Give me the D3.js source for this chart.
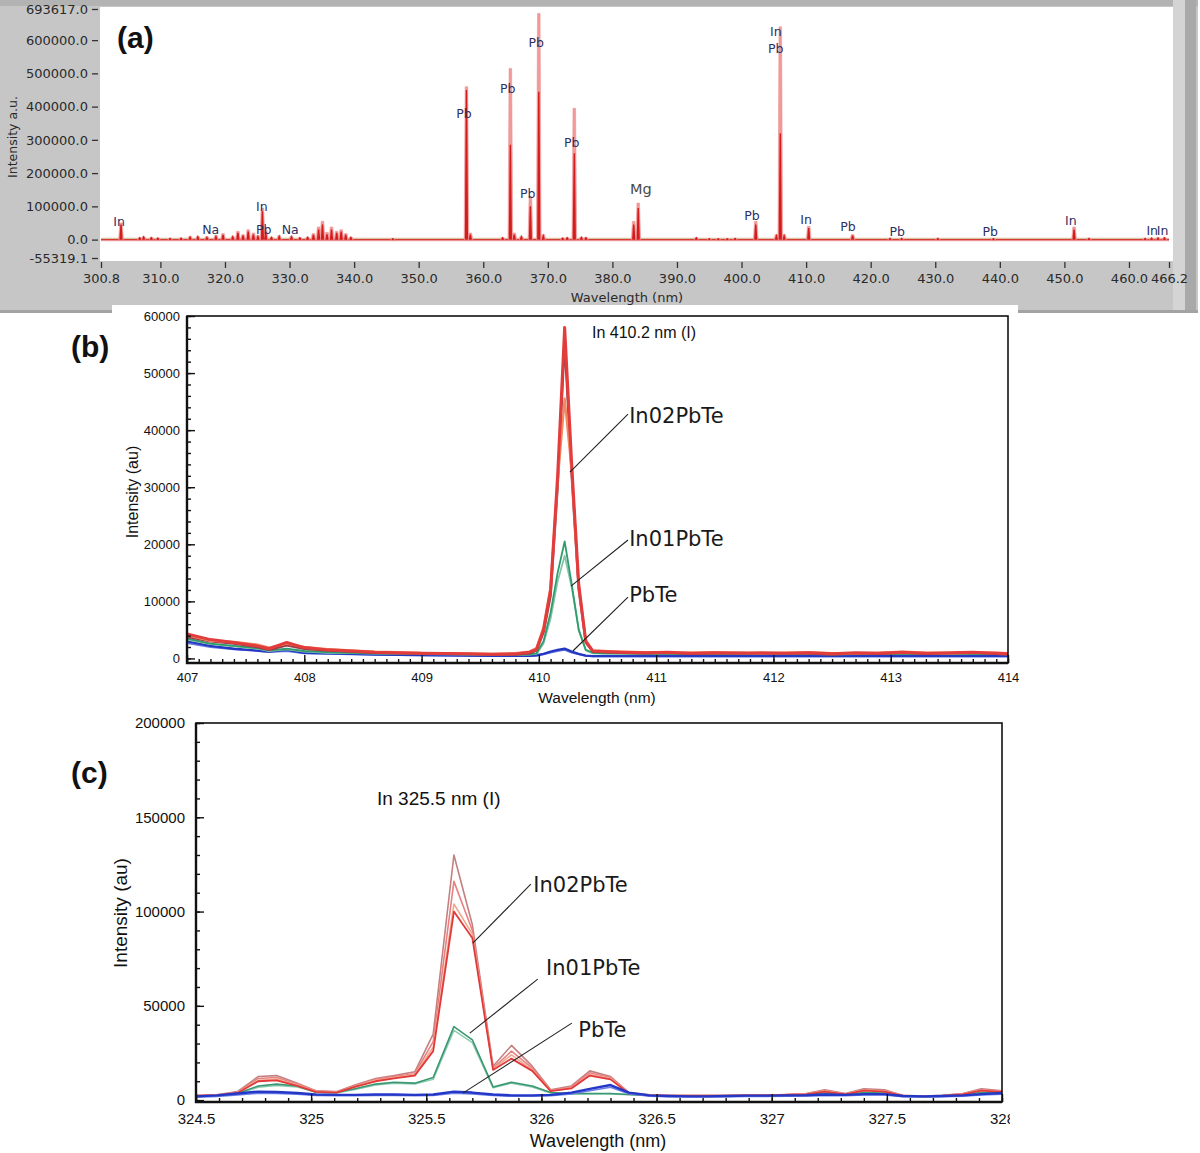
<!DOCTYPE html>
<meta charset="utf-8">
<style>
    body { margin: 0; background: #fff; }
</style>
<svg width="1200" height="1153"></svg>

<script src="https://d3js.org/d3.v7.min.js"></script>
<script>
    // ---------- panel (a): survey spectrum ----------
    var aXTicks = [300.8, 310, 320, 330, 340, 350, 360, 370, 380, 390, 400, 410, 420, 430, 440, 450, 460, 466.2];
    var aYTicks = [-55319.1, 0, 100000, 200000, 300000, 400000, 500000, 600000, 693617];
    // peak position (nm), upper (pink) spectrum, lower (red) spectrum
    var aPeakWave = [303.9, 306.8, 307.4, 308.6, 309.6, 311.5, 313.2, 314.6, 315.8, 317.2, 318.6, 319.7,
        321.2, 322.0, 322.8, 323.6, 324.4, 325.1, 325.8, 326.3, 327.2, 328.4, 330.3, 331.6, 332.8,
        333.7, 334.5, 335.1, 335.8, 336.5, 337.3, 338.0, 338.7, 339.5, 346.0, 357.4, 358.0, 363.0,
        364.2, 364.8, 365.9, 367.3, 368.6, 369.3, 372.3, 373.0, 374.1, 375.2, 375.9, 383.3, 384.0,
        393.0, 395.0, 396.4, 397.8, 399.0, 402.2, 405.4, 406.0, 406.6, 410.4, 417.2, 423.0, 424.8,
        430.4, 439.0, 451.5, 453.8, 462.5, 463.5, 464.5, 465.5];
    var aPeakHigh = [50000, 6000, 9000, 7000, 5000, 4000, 5000, 9000, 10000, 9000, 12000, 18000,
        10000, 25000, 15000, 30000, 20000, 12000, 95000, 30000, 8000, 12000, 10000, 6000, 8000,
        18000, 38000, 55000, 22000, 38000, 25000, 30000, 18000, 8000, 3000, 460000, 20000, 6000,
        515000, 20000, 10000, 130000, 680000, 15000, 5000, 6000, 395000, 8000, 7000, 55000, 110000,
        6000, 3000, 3000, 3000, 4000, 55000, 15000, 640000, 15000, 40000, 15000, 4000, 4000,
        4000, 3000, 38000, 4000, 4000, 5000, 6000, 6000];
    var aPeakLow = [45000, 5000, 7000, 5000, 4000, 3000, 4000, 7000, 8000, 6000, 9000, 14000,
        8000, 20000, 12000, 24000, 15000, 9000, 85000, 22000, 6000, 9000, 8000, 5000, 6000,
        14000, 30000, 45000, 16000, 30000, 20000, 24000, 14000, 6000, 2000, 450000, 15000, 5000,
        285000, 15000, 8000, 100000, 445000, 10000, 4000, 5000, 260000, 6000, 5000, 45000, 95000,
        5000, 2000, 2000, 2000, 3000, 45000, 10000, 320000, 10000, 35000, 12000, 3000, 3000,
        3000, 2000, 30000, 3000, 3000, 4000, 4000, 5000];
    var aLabelText = ["In", "Na", "In", "Pb", "Na", "Pb", "Pb", "Pb", "Pb", "Pb", "Mg", "Pb", "In", "Pb",
        "In", "Pb", "Pb", "Pb", "In", "In", "In"];
    var aLabelWave = [303.6, 317.8, 325.7, 326.0, 330.1, 357.0, 363.8, 366.9, 368.2, 373.7, 384.4, 401.6,
        405.3, 405.3, 410.0, 416.5, 424.1, 438.5, 451.0, 463.6, 465.2];
    var aLabelLevel = [40900, 16800, 86000, 16800, 16800, 365500, 441000, 125000, 579000, 278500, 137000,
        59000, 612000, 561000, 47000, 25900, 10800, 10800, 44000, 13800, 13800];

    // ---------- panel (b): In 410.2 nm ----------
    var bXTicks = [407, 408, 409, 410, 411, 412, 413, 414];
    var bYTicks = [0, 10000, 20000, 30000, 40000, 50000, 60000];
    var bWave = [407.0, 407.2, 407.4, 407.6, 407.7, 407.85, 408.0, 408.2, 408.4, 408.6, 408.8, 409.0, 409.2, 409.4, 409.6, 409.8,
        409.92, 409.98, 410.04, 410.10, 410.16, 410.22, 410.28, 410.34, 410.40, 410.46,
        410.55, 410.7, 410.9, 411.1, 411.3, 411.5, 411.7, 411.9, 412.1, 412.3, 412.5, 412.7, 412.9, 413.1, 413.3, 413.5, 413.7, 413.9, 414.0];
    var bIn02a = [4300, 3300, 2800, 2200, 1700, 2800, 1900, 1500, 1300, 1100, 1000, 900, 850, 800, 750, 800,
        1100, 1600, 5000, 12000, 32000, 58000, 34000, 13000, 3000, 1300,
        1200, 1100, 1000, 1100, 900, 1000, 900, 1000, 900, 1000, 800, 1000, 900, 1100, 900, 1000, 1100, 900, 800];
    var bIn02b = [4100, 3100, 2900, 2400, 1900, 2600, 2000, 1600, 1400, 1200, 1100, 950, 900, 850, 800, 900,
        1200, 1800, 5500, 12500, 31000, 45500, 33000, 12500, 3200, 1400,
        1300, 1200, 1100, 1000, 1000, 1100, 1000, 900, 1000, 1100, 900, 900, 1000, 1200, 1000, 900, 1000, 1000, 900];
    var bIn02c = [3800, 3000, 2600, 2000, 1500, 2300, 1700, 1400, 1200, 1000, 900, 850, 800, 750, 700, 700,
        900, 1400, 4600, 11000, 30000, 55500, 32000, 12000, 2800, 1200,
        1100, 1000, 900, 1000, 800, 900, 1000, 800, 900, 900, 700, 900, 800, 1000, 800, 900, 1000, 800, 700];
    var bIn01a = [3500, 2600, 2200, 1800, 1400, 1700, 1300, 1100, 1000, 900, 850, 800, 750, 700, 650, 650,
        700, 900, 3000, 8000, 15000, 20500, 13000, 5000, 1500, 1000,
        900, 900, 800, 800, 800, 800, 800, 800, 800, 800, 700, 800, 800, 800, 800, 800, 800, 800, 700];
    var bIn01b = [3300, 2500, 2100, 1700, 1300, 1600, 1200, 1000, 950, 850, 800, 750, 700, 650, 600, 600,
        650, 800, 2600, 7000, 13500, 18000, 12500, 5000, 1400, 900,
        850, 800, 800, 750, 750, 750, 750, 750, 750, 750, 700, 750, 750, 750, 750, 750, 750, 750, 700];
    var bPbTea = [3000, 2200, 1700, 1400, 1200, 1500, 1000, 900, 800, 700, 650, 600, 550, 500, 450, 450,
        450, 550, 800, 1200, 1500, 1700, 1200, 800, 500, 400,
        400, 400, 400, 400, 400, 400, 400, 400, 400, 400, 400, 400, 400, 400, 400, 400, 400, 400, 400];
    var bPbTeb = [2700, 2000, 1600, 1300, 1100, 1300, 900, 800, 700, 650, 600, 550, 500, 450, 400, 400,
        400, 500, 700, 1000, 1300, 1500, 1000, 700, 450, 350,
        350, 350, 350, 350, 350, 350, 350, 350, 350, 350, 350, 350, 350, 350, 350, 350, 350, 350, 350];

    // ---------- panel (c): In 325.5 nm ----------
    var cXTicks = [324.5, 325, 325.5, 326, 326.5, 327, 327.5, 328];
    var cYTicks = [0, 50000, 100000, 150000, 200000];
    var cWave = [324.50, 324.59, 324.68, 324.77, 324.85, 324.94, 325.02, 325.11, 325.19, 325.28, 325.36, 325.45, 325.53, 325.62,
        325.70, 325.79, 325.87, 325.96, 326.04, 326.13, 326.21, 326.30, 326.38, 326.47, 326.55, 326.64, 326.72, 326.81,
        326.89, 326.98, 327.06, 327.15, 327.23, 327.32, 327.40, 327.49, 327.57, 327.66, 327.74, 327.83, 327.91, 328.00];
    var cIn02a = [2500, 2800, 4500, 12500, 13000, 9000, 5000, 4500, 8000, 11500, 13000, 15000, 35000, 130000,
        93000, 18000, 29000, 18000, 5500, 7500, 15500, 12500, 4000, 2800, 2600, 2500, 2500, 2600,
        2800, 2800, 3000, 3500, 5500, 3500, 6000, 5500, 2500, 2200, 2500, 3500, 6000, 5000];
    var cIn02b = [2400, 2700, 4200, 11500, 12000, 8500, 4800, 4300, 7600, 11000, 12500, 14000, 31000, 116000,
        90000, 17000, 26000, 17000, 5200, 7000, 14500, 12000, 3800, 2700, 2500, 2400, 2400, 2500,
        2700, 2700, 2900, 3300, 5000, 3300, 5500, 5000, 2400, 2100, 2400, 3300, 5500, 4700];
    var cIn02c = [2300, 2600, 4000, 10500, 11000, 8000, 4600, 4200, 7200, 10500, 12000, 13500, 28000, 104000,
        88000, 16500, 24000, 16000, 5000, 6500, 13500, 11500, 3700, 2600, 2400, 2300, 2300, 2400,
        2600, 2600, 2800, 3200, 4800, 3200, 5200, 4800, 2300, 2000, 2300, 3200, 5200, 4500];
    var cIn02d = [2200, 2500, 3800, 10000, 10500, 7500, 4400, 4000, 7000, 10000, 11500, 13000, 26000, 100000,
        86000, 16000, 22000, 15500, 4800, 6200, 13000, 11000, 3500, 2500, 2300, 2200, 2200, 2300,
        2500, 2500, 2700, 3000, 4500, 3000, 5000, 4500, 2200, 1900, 2200, 3000, 5000, 4300];
    var cIn01a = [2000, 2300, 3500, 7500, 8500, 7500, 4300, 4000, 6000, 8500, 9500, 9000, 12000, 39000,
        32000, 7000, 9500, 7500, 4000, 3500, 3500, 3500, 3000, 2500, 2300, 2200, 2200, 2300,
        2400, 2400, 2600, 2800, 3800, 2800, 4000, 3800, 2200, 1900, 2100, 2800, 4000, 3800];
    var cIn01b = [1900, 2200, 3300, 6800, 7800, 7000, 4100, 3800, 5600, 8000, 9000, 8500, 11000, 37000,
        30500, 6500, 9000, 7000, 3800, 3300, 3300, 3300, 2800, 2400, 2200, 2100, 2100, 2200,
        2300, 2300, 2500, 2700, 3500, 2700, 3700, 3500, 2100, 1800, 2000, 2700, 3700, 3600];
    var cPbTea = [2000, 2500, 3500, 4500, 4300, 3800, 3000, 2800, 2800, 3000, 3000, 2800, 3000, 4500,
        4000, 3000, 2500, 2500, 2800, 4000, 6000, 8000, 4000, 2500, 2200, 2000, 2000, 2200,
        2400, 2400, 2500, 2600, 3000, 2800, 3200, 3200, 2200, 2000, 2200, 2500, 3200, 3800];
    var cPbTeb = [1600, 2000, 2800, 3600, 3500, 3100, 2500, 2300, 2300, 2500, 2500, 2300, 2500, 3700,
        3300, 2500, 2100, 2100, 2300, 3300, 5000, 6800, 3400, 2100, 1800, 1700, 1700, 1800,
        2000, 2000, 2100, 2200, 2500, 2300, 2700, 2700, 1800, 1700, 1800, 2100, 2700, 3200];

    var svg = d3.select("svg"),
        LV_FONT = "DejaVu Sans, sans-serif",
        SCI_FONT = "Liberation Sans, Arial, sans-serif";

    // ======================= panel (a) =======================
    var gA = svg.append("g"),
        xA = d3.scaleLinear().domain([300.8, 466.2]).range([101, 1169]),
        yA = d3.scaleLinear().domain([-55319.1, 693617]).range([258, 9]),
        fmtA = function (d) {
            return d3.format(".1f")(d).replace("\u2212", "-");
        };

    gA.append("rect").attr("x", 0).attr("y", 0).attr("width", 1198).attr("height", 313).attr("fill", "#c6c6c6");
    gA.append("rect").attr("x", 0).attr("y", 0).attr("width", 1198).attr("height", 6).attr("fill", "#b3b3b3");
    gA.append("rect").attr("x", 1173).attr("y", 0).attr("width", 12).attr("height", 313).attr("fill", "#d4d4d4");
    gA.append("rect").attr("x", 1185).attr("y", 0).attr("width", 11).attr("height", 313).attr("fill", "#a9a9a9");
    gA.append("rect").attr("x", 0).attr("y", 310).attr("width", 1198).attr("height", 3).attr("fill", "#a3a3a3");
    gA.append("rect").attr("x", 100).attr("y", 7).attr("width", 1073).attr("height", 254).attr("fill", "#fff");

    // baseline of the spectra
    gA.append("line")
        .attr("x1", xA(300.8)).attr("x2", xA(466.2))
        .attr("y1", yA(0)).attr("y2", yA(0))
        .attr("stroke", "#f2b0b0").attr("stroke-width", 3.5);
    gA.append("line")
        .attr("x1", xA(300.8)).attr("x2", xA(466.2))
        .attr("y1", yA(0) - 1).attr("y2", yA(0) - 1)
        .attr("stroke", "#b9d98c").attr("stroke-width", 0.8).attr("opacity", 0.7);
    gA.append("line")
        .attr("x1", xA(300.8)).attr("x2", xA(466.2))
        .attr("y1", yA(0)).attr("y2", yA(0))
        .attr("stroke", "#d83a3a").attr("stroke-width", 1.3);

    // upper spectrum (pink sticks)
    gA.append("g").selectAll("path")
        .data(aPeakWave)
        .enter()
        .append("path")
        .attr("d", function (d, i) {
            var x = xA(d), y0 = yA(0), y1 = yA(aPeakHigh[i]);
            return "M" + (x - 2.4) + "," + y0 + "L" + (x - 1.3) + "," + y1 + "L" + (x + 1.3) + "," + y1 + "L" + (x + 2.4) + "," + y0 + "Z";
        })
        .attr("fill", "#f29a9a")
        .attr("stroke", "#e98a8a")
        .attr("stroke-width", 0.5);

    // lower spectrum (red sticks)
    gA.append("g").selectAll("path")
        .data(aPeakWave)
        .enter()
        .append("path")
        .attr("d", function (d, i) {
            var x = xA(d), y0 = yA(0), y1 = yA(aPeakLow[i]);
            return "M" + (x - 0.9) + "," + y0 + "L" + x + "," + y1 + "L" + (x + 0.9) + "," + y0;
        })
        .attr("fill", "#d82020")
        .attr("stroke", "#d41c1c")
        .attr("stroke-width", 1.4);

    gA.append("g").selectAll("text")
        .data(aLabelText)
        .enter()
        .append("text")
        .attr("x", function (d, i) { return xA(aLabelWave[i]); })
        .attr("y", function (d, i) { return yA(aLabelLevel[i]); })
        .attr("text-anchor", "middle")
        .style("font-family", LV_FONT)
        .style("font-size", function (d) { return d === "Mg" ? "14.5px" : "12.5px"; })
        .attr("fill", function (d) { return d === "Mg" ? "#4a4a4a" : "#2c2f63"; })
        .text(function (d) { return d; });

    var axA_y = gA.append("g")
        .attr("transform", "translate(98,0)")
        .call(d3.axisLeft(yA).tickValues(aYTicks).tickSize(6).tickPadding(4).tickFormat(fmtA));
    var axA_x = gA.append("g")
        .attr("transform", "translate(0,262)")
        .call(d3.axisBottom(xA).tickValues(aXTicks).tickSize(6).tickPadding(6).tickFormat(fmtA));
    [axA_y, axA_x].forEach(function (ax) {
        ax.select(".domain").remove();
        ax.selectAll("line").attr("stroke", "#333").attr("stroke-width", 1.3);
        ax.selectAll("text").style("font-size", "13px").attr("fill", "#2a2a2a").style("font-family", LV_FONT);
    });

    gA.append("text")
        .attr("transform", "translate(17,137) rotate(-90)")
        .attr("text-anchor", "middle")
        .style("font-family", LV_FONT)
        .style("font-size", "12.5px")
        .attr("fill", "#2a2a2a")
        .text("Intensity a.u.");
    gA.append("text")
        .attr("x", 627).attr("y", 302)
        .attr("text-anchor", "middle")
        .style("font-family", LV_FONT)
        .style("font-size", "13px")
        .attr("fill", "#2a2a2a")
        .text("Wavelength (nm)");
    gA.append("text")
        .attr("x", 117).attr("y", 48)
        .style("font-family", SCI_FONT)
        .style("font-weight", "bold")
        .style("font-size", "30px")
        .attr("fill", "#111")
        .text("(a)");

    // white sheet of panel (b) covering the bottom of the frame
    svg.append("rect").attr("x", 112).attr("y", 305).attr("width", 906).attr("height", 10).attr("fill", "#fff");

    // ============ helpers for panels (b) and (c) ============
    function drawBox(g, x, y, opt) {
        var x0 = x.range()[0], x1 = x.range()[1], y0 = y.range()[0], y1 = y.range()[1],
            axX, axY;

        g.append("g")
            .attr("transform", "translate(0," + y0 + ")")
            .call(d3.axisBottom(x).tickValues(opt.xMinor).tickSize(-4).tickFormat(""))
            .call(function (s) { s.select(".domain").remove(); });
        g.append("g")
            .attr("transform", "translate(" + x0 + ",0)")
            .call(d3.axisLeft(y).tickValues(opt.yMinor).tickSize(-4).tickFormat(""))
            .call(function (s) { s.select(".domain").remove(); });

        axX = g.append("g")
            .attr("transform", "translate(0," + y0 + ")")
            .call(d3.axisBottom(x).tickValues(opt.xTicks).tickSize(-8).tickPadding(opt.xPad).tickFormat(opt.xFormat));
        axY = g.append("g")
            .attr("transform", "translate(" + x0 + ",0)")
            .call(d3.axisLeft(y).tickValues(opt.yTicks).tickSize(-8).tickPadding(opt.yPad).tickFormat(d3.format("d")));
        [axX, axY].forEach(function (ax) {
            ax.select(".domain").remove();
            ax.selectAll("text").style("font-size", opt.fontSize + "px").attr("fill", "#111")
                .style("font-family", SCI_FONT);
        });
        g.selectAll(".tick line").attr("stroke", "#111").attr("stroke-width", 1.4);

        g.append("rect")
            .attr("x", x0).attr("y", y1)
            .attr("width", x1 - x0).attr("height", y0 - y1)
            .attr("fill", "none").attr("stroke", "#111").attr("stroke-width", 1.6);
        g.append("path")
            .attr("d", "M" + x0 + "," + y1 + "V" + y0 + "H" + x1)
            .attr("fill", "none").attr("stroke", "#111").attr("stroke-width", 2.4);
    }

    function drawSeries(g, x, y, wave, series, clipId) {
        var line = d3.line()
            .x(function (d, i) { return x(wave[i]); })
            .y(function (d) { return y(d); });

        g.append("clipPath").attr("id", clipId)
            .append("rect")
            .attr("x", x.range()[0]).attr("y", y.range()[1])
            .attr("width", x.range()[1] - x.range()[0])
            .attr("height", y.range()[0] - y.range()[1]);

        g.append("g").attr("clip-path", "url(#" + clipId + ")")
            .selectAll("path")
            .data(series)
            .enter()
            .append("path")
            .attr("d", function (d) { return line(d.values); })
            .attr("fill", "none")
            .attr("stroke", function (d) { return d.color; })
            .attr("stroke-width", function (d) { return d.width; })
            .attr("stroke-linejoin", "round");
    }

    function drawNotes(g, x, y, notes, size) {
        notes.forEach(function (n) {
            g.append("line")
                .attr("x1", x(n.from[0])).attr("y1", y(n.from[1]))
                .attr("x2", x(n.to[0])).attr("y2", y(n.to[1]))
                .attr("stroke", "#222").attr("stroke-width", 1.1);
            g.append("text")
                .attr("x", x(n.at[0])).attr("y", y(n.at[1]))
                .style("font-family", LV_FONT)
                .style("font-size", size + "px")
                .attr("fill", "#1a1a1a")
                .text(n.text);
        });
    }

    function sciText(g, x, y, size, txt, anchor, rotate) {
        var t = g.append("text")
            .style("font-family", SCI_FONT)
            .style("font-size", size + "px")
            .attr("fill", "#111")
            .attr("text-anchor", anchor || "start")
            .text(txt);
        if (rotate) {
            t.attr("transform", "translate(" + x + "," + y + ") rotate(-90)");
        } else {
            t.attr("x", x).attr("y", y);
        }
        return t;
    }

    // ======================= panel (b) =======================
    var gB = svg.append("g"),
        xB = d3.scaleLinear().domain([407, 414]).range([187, 1008]),
        yB = d3.scaleLinear().domain([-800, 60000]).range([663, 316]);

    drawSeries(gB, xB, yB, bWave, [
        {values: bPbTeb, color: "#6a7ae0", width: 1.8},
        {values: bPbTea, color: "#2438c4", width: 2.4},
        {values: bIn01b, color: "#86c4ac", width: 1.8},
        {values: bIn01a, color: "#2f9c6c", width: 1.8},
        {values: bIn02c, color: "#9c3c48", width: 2.4},
        {values: bIn02b, color: "#f08a62", width: 2.4},
        {values: bIn02a, color: "#e23c3c", width: 3}
    ], "clipB");

    drawBox(gB, xB, yB, {
        xTicks: bXTicks, yTicks: bYTicks,
        xMinor: xB.ticks(70), yMinor: d3.range(0, 60001, 2000),
        xPad: 10, yPad: 7, fontSize: 13, xFormat: d3.format("d")
    });

    drawNotes(gB, xB, yB, [
        {text: "In02PbTe", at: [410.77, 41300], from: [410.76, 42800], to: [410.265, 32650]},
        {text: "In01PbTe", at: [410.77, 19700], from: [410.76, 20750], to: [410.274, 12680]},
        {text: "PbTe", at: [410.77, 9880], from: [410.76, 10760], to: [410.29, 1300]}
    ], 21);

    sciText(gB, 592, 338, 16, "In 410.2 nm (I)");
    sciText(gB, 138, 492, 16, "Intensity (au)", "middle", true);
    sciText(gB, 597, 703, 15.5, "Wavelength (nm)", "middle");
    sciText(gB, 71, 357, 30, "(b)").style("font-weight", "bold");

    // ======================= panel (c) =======================
    var gC = svg.append("g"),
        xC = d3.scaleLinear().domain([324.5, 328]).range([196, 1002]),
        yC = d3.scaleLinear().domain([-1000, 200000]).range([1102, 723]);

    drawSeries(gC, xC, yC, cWave, [
        {values: cIn01b, color: "#8ccab4", width: 1.5},
        {values: cIn01a, color: "#3a9870", width: 1.6},
        {values: cIn02a, color: "#c48080", width: 1.6},
        {values: cIn02b, color: "#e88080", width: 1.6},
        {values: cIn02c, color: "#f2a890", width: 1.6},
        {values: cIn02d, color: "#e23a3a", width: 1.8},
        {values: cPbTeb, color: "#6c7ee4", width: 1.6},
        {values: cPbTea, color: "#2438c8", width: 2.4}
    ], "clipC");

    drawBox(gC, xC, yC, {
        xTicks: cXTicks, yTicks: cYTicks,
        xMinor: xC.ticks(35), yMinor: d3.range(0, 200001, 10000),
        xPad: 11, yPad: 11, fontSize: 15, xFormat: function (d) { return String(d); }
    });

    drawNotes(gC, xC, yC, [
        {text: "In02PbTe", at: [325.965, 110300], from: [325.954, 114500], to: [325.702, 83240]},
        {text: "In01PbTe", at: [326.02, 66275], from: [325.984, 64150], to: [325.689, 35520]},
        {text: "PbTe", at: [326.16, 33400], from: [326.132, 40830], to: [325.659, 3710]}
    ], 21);

    sciText(gC, 377, 805, 19, "In 325.5 nm (I)");
    sciText(gC, 127, 913, 19, "Intensity (au)", "middle", true);
    sciText(gC, 598, 1147, 18, "Wavelength (nm)", "middle");
    sciText(gC, 71, 783, 30, "(c)").style("font-weight", "bold");

    // the reference picture is cropped just right of panel (c)
    svg.append("rect").attr("x", 1010).attr("y", 1104).attr("width", 190).attr("height", 49).attr("fill", "#fff");
</script>
